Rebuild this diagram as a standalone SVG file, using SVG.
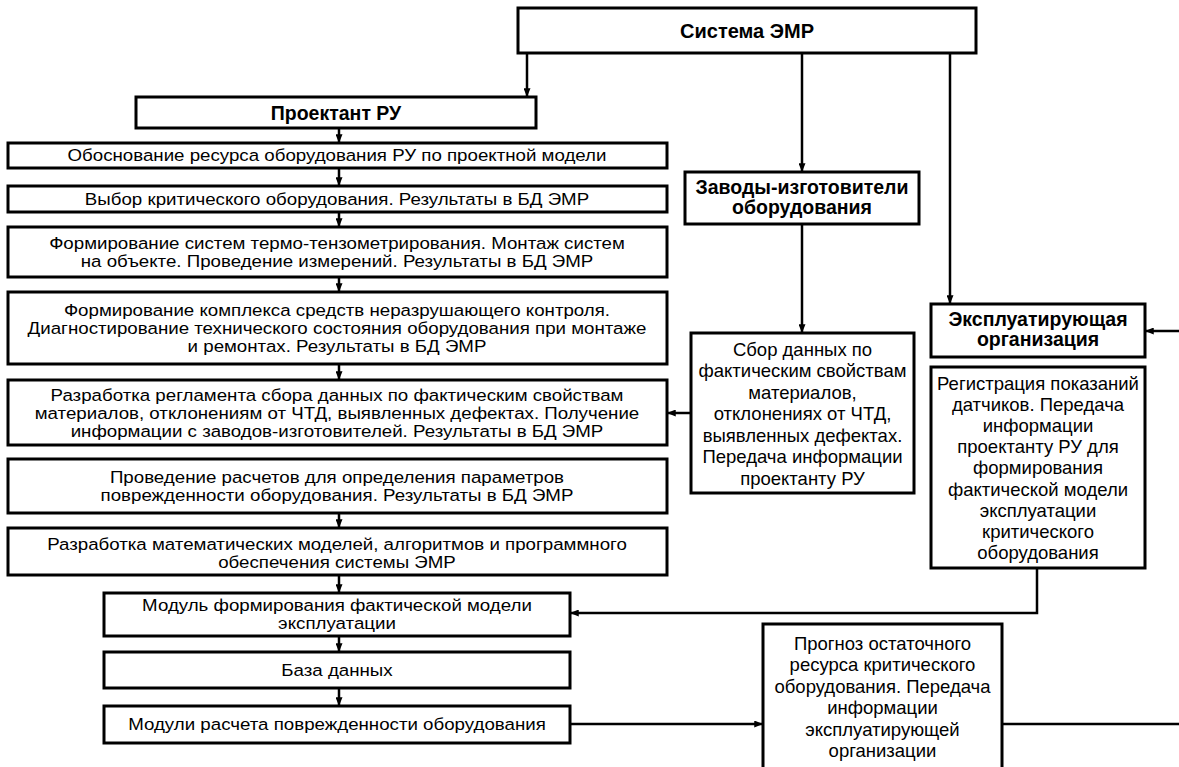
<svg xmlns="http://www.w3.org/2000/svg" width="1179" height="767" viewBox="0 0 1179 767">
<defs>
<marker id="ah" viewBox="0 0 10 8" refX="10" refY="4" markerWidth="10" markerHeight="7" markerUnits="userSpaceOnUse" orient="auto"><path d="M0,0 L10,4 L0,8 z" fill="#000"/></marker>
</defs>
<style>
.box{fill:#fff;stroke:#000;stroke-width:3}
.t{font-family:"Liberation Sans",Arial,sans-serif;font-size:17px;fill:#000;text-anchor:middle}
.w{transform:matrix(1.1,0,0,1,-33.7,0)}
.r{font-size:18.5px}
.b{font-weight:bold;font-size:19.5px}
.c{fill:none;stroke:#000;stroke-width:2.5}
</style>
<rect width="1179" height="767" fill="#fff"/>
<g id="connectors">
<path class="c" d="M527,53 V97" marker-end="url(#ah)"/>
<path class="c" d="M802,53 V172" marker-end="url(#ah)"/>
<path class="c" d="M950,53 V304" marker-end="url(#ah)"/>
<path class="c" d="M339,128 V143" marker-end="url(#ah)"/>
<path class="c" d="M339,168 V186" marker-end="url(#ah)"/>
<path class="c" d="M339,212 V227" marker-end="url(#ah)"/>
<path class="c" d="M339,277 V292" marker-end="url(#ah)"/>
<path class="c" d="M339,364 V380" marker-end="url(#ah)"/>
<path class="c" d="M339,513 V528" marker-end="url(#ah)"/>
<path class="c" d="M339,575 V593" marker-end="url(#ah)"/>
<path class="c" d="M339,636 V652" marker-end="url(#ah)"/>
<path class="c" d="M339,688 V706" marker-end="url(#ah)"/>
<path class="c" d="M802,224 V333" marker-end="url(#ah)"/>
<path class="c" d="M691,413 H667" marker-end="url(#ah)"/>
<path class="c" d="M1179,331 H1145" marker-end="url(#ah)"/>
<path class="c" d="M1037,568 V613 H570" marker-end="url(#ah)"/>
<path class="c" d="M570,724 H763" marker-end="url(#ah)"/>
<path class="c" d="M1002,724 H1179"/>
</g>
<g id="n-system"><rect class="box" x="518" y="8" width="458" height="45"/><text class="t b" x="747" y="38" style="font-size:20px">Система ЭМР</text></g>
<g id="n-proektant"><rect class="box" x="136" y="97" width="400" height="31"/><text class="t b" x="336" y="119.5">Проектант РУ</text></g>
<g id="n-b1"><rect class="box" x="8" y="143" width="659" height="25"/><text class="t w" x="337" y="161.5">Обоснование ресурса оборудования РУ по проектной модели</text></g>
<g id="n-b2"><rect class="box" x="8" y="186" width="659" height="26"/><text class="t w" x="337" y="205">Выбор критического оборудования. Результаты в БД ЭМР</text></g>
<g id="n-b3"><rect class="box" x="8" y="227" width="659" height="50"/><text class="t w" x="337" y="249">Формирование систем термо-тензометрирования. Монтаж систем<tspan x="337" dy="18">на объекте. Проведение измерений. Результаты в БД ЭМР</tspan></text></g>
<g id="n-b4"><rect class="box" x="8" y="292" width="659" height="72"/><text class="t w" x="337" y="316">Формирование комплекса средств неразрушающего контроля.<tspan x="337" dy="18">Диагностирование технического состояния оборудования при монтаже</tspan><tspan x="337" dy="18">и ремонтах. Результаты в БД ЭМР</tspan></text></g>
<g id="n-b5"><rect class="box" x="8" y="380" width="659" height="65"/><text class="t w" x="337" y="401">Разработка регламента сбора данных по фактическим свойствам<tspan x="337" dy="18">материалов, отклонениям от ЧТД, выявленных дефектах. Получение</tspan><tspan x="337" dy="18">информации с заводов-изготовителей. Результаты в БД ЭМР</tspan></text></g>
<g id="n-b6"><rect class="box" x="8" y="459" width="659" height="54"/><text class="t w" x="337" y="483">Проведение расчетов для определения параметров<tspan x="337" dy="18.5">поврежденности оборудования. Результаты в БД ЭМР</tspan></text></g>
<g id="n-b7"><rect class="box" x="8" y="528" width="659" height="47"/><text class="t w" x="337" y="550.5">Разработка математических моделей, алгоритмов и программного<tspan x="337" dy="18">обеспечения системы ЭМР</tspan></text></g>
<g id="n-b8"><rect class="box" x="104" y="593" width="466" height="43"/><text class="t w" x="337" y="611">Модуль формирования фактической модели<tspan x="337" dy="18">эксплуатации</tspan></text></g>
<g id="n-b9"><rect class="box" x="104" y="652" width="466" height="36"/><text class="t w" x="337" y="676">База данных</text></g>
<g id="n-b10"><rect class="box" x="104" y="706" width="466" height="37"/><text class="t w" x="337" y="730">Модули расчета поврежденности оборудования</text></g>
<g id="n-zavody"><rect class="box" x="685" y="172" width="234" height="52"/><text class="t b" x="802" y="194">Заводы-изготовители<tspan x="802" dy="20">оборудования</tspan></text></g>
<g id="n-sbor"><rect class="box" x="691" y="333" width="223" height="160"/><text class="t r" x="802.5" y="355.5">Сбор данных по<tspan x="802.5" dy="21.5">фактическим свойствам</tspan><tspan x="802.5" dy="21.5">материалов,</tspan><tspan x="802.5" dy="21.5">отклонениях от ЧТД,</tspan><tspan x="802.5" dy="21.5">выявленных дефектах.</tspan><tspan x="802.5" dy="21.5">Передача информации</tspan><tspan x="802.5" dy="21.5">проектанту РУ</tspan></text></g>
<g id="n-expl"><rect class="box" x="931" y="304" width="214" height="53"/><text class="t b" x="1038" y="325.5">Эксплуатирующая<tspan x="1038" dy="20">организация</tspan></text></g>
<g id="n-reg"><rect class="box" x="931" y="367" width="214" height="201"/><text class="t r" x="1038" y="389.5">Регистрация показаний<tspan x="1038" dy="21.2">датчиков. Передача</tspan><tspan x="1038" dy="21.2">информации</tspan><tspan x="1038" dy="21.2">проектанту РУ для</tspan><tspan x="1038" dy="21.2">формирования</tspan><tspan x="1038" dy="21.2">фактической модели</tspan><tspan x="1038" dy="21.2">эксплуатации</tspan><tspan x="1038" dy="21.2">критического</tspan><tspan x="1038" dy="21.2">оборудования</tspan></text></g>
<g id="n-prognoz"><rect class="box" x="763" y="624" width="239" height="180"/><text class="t r" x="882.5" y="649.5">Прогноз остаточного<tspan x="882.5" dy="21.5">ресурса критического</tspan><tspan x="882.5" dy="21.5">оборудования. Передача</tspan><tspan x="882.5" dy="21.5">информации</tspan><tspan x="882.5" dy="21.5">эксплуатирующей</tspan><tspan x="882.5" dy="21.5">организации</tspan></text></g>
</svg>
